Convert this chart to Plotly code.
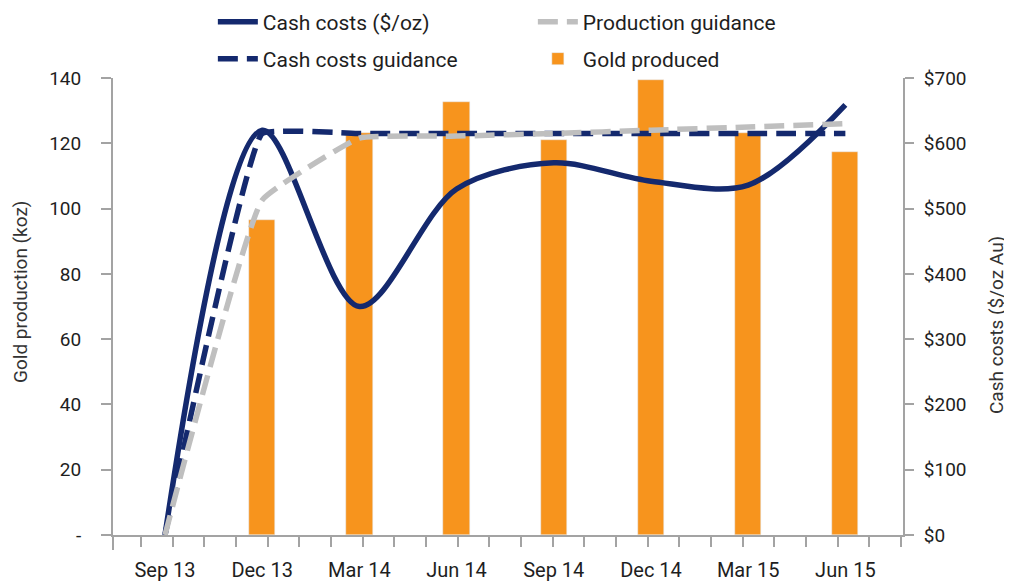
import plotly.graph_objects as go

# ---------------- data ----------------
quarters = ["Sep 13", "Dec 13", "Mar 14", "Jun 14", "Sep 14", "Dec 14", "Mar 15", "Jun 15"]
gold_produced = [None, 96.5, 123.2, 132.7, 121.0, 139.3, 123.1, 117.4]          # koz
production_guidance = [0, 102.6, 121.6, 122.2, 123.0, 124.0, 125.0, 126.0]     # koz
cash_costs = [0, 620, 350, 530, 570, 542, 536, 659]                              # $/oz
cash_costs_guidance = [0, 615, 615, 615, 615, 615, 615, 615]                     # $/oz

left_ticks = [0, 20, 40, 60, 80, 100, 120, 140]
left_tick_labels = ["-", "20", "40", "60", "80", "100", "120", "140"]
right_ticks = [0, 100, 200, 300, 400, 500, 600, 700]
right_tick_labels = ["$0", "$100", "$200", "$300", "$400", "$500", "$600", "$700"]

# ---------------- style ----------------
NAVY = "#14296e"
ORANGE = "#f7941d"
GREY = "#bfbfbf"
AXIS = "#a3a3a3"
TEXT = "#1e1e1e"
FONT = "Roboto"

x = list(range(len(quarters)))
bar_x = [xi for xi, v in zip(x, gold_produced) if v is not None]
bar_y = [v for v in gold_produced if v is not None]

# monthly minor ticks (pixel-derived spacing of the original axis)
minor_start = -0.247
minor_step = 0.3258
minor_ticks = [minor_start + k * minor_step for k in range(25)]

fig = go.Figure()

fig.add_trace(go.Bar(
    x=bar_x, y=bar_y, name="Gold produced", marker_color=ORANGE,
    width=0.27, yaxis="y", legend="legend2", legendrank=2,
))
fig.add_trace(go.Scatter(
    x=x, y=cash_costs_guidance, name="Cash costs guidance", mode="lines",
    line=dict(color=NAVY, width=5.5, dash="20px,9px", shape="spline", smoothing=0.25),
    yaxis="y2", legend="legend2", legendrank=1,
))
fig.add_trace(go.Scatter(
    x=x, y=cash_costs, name="Cash costs ($/oz)", mode="lines",
    line=dict(color=NAVY, width=5.5, shape="spline", smoothing=0.9),
    yaxis="y2", legend="legend", legendrank=1,
))
fig.add_trace(go.Scatter(
    x=x, y=production_guidance, name="Production guidance", mode="lines",
    line=dict(color=GREY, width=5.5, dash="20px,9px", shape="spline", smoothing=0.3),
    yaxis="y3", legend="legend", legendrank=2,
))

xr = [-0.535, 7.593]

legend_common = dict(
    orientation="h", xanchor="left", yanchor="middle",
    entrywidth=265, entrywidthmode="pixels",
    font=dict(family=FONT, size=21, color=TEXT),
    bgcolor="rgba(0,0,0,0)", itemwidth=40,
)

# the page body adds an 8px offset, so the figure is 8px smaller on each side
fig.update_layout(
    width=1004, height=575,
    margin=dict(l=105, r=109, t=70, b=48, autoexpand=False),
    paper_bgcolor="white", plot_bgcolor="white",
    font=dict(family=FONT, size=18, color=TEXT),
    bargap=0,
    xaxis=dict(
        range=xr, tickvals=x, ticktext=quarters, ticks="",
        showline=True, linecolor=AXIS, linewidth=2,
        showgrid=False, zeroline=False,
        tickfont=dict(family=FONT, size=20, color=TEXT),
        ticklabelstandoff=16,
        minor=dict(tickvals=minor_ticks, ticks="outside", ticklen=10,
                   tickcolor=AXIS, tickwidth=2, showgrid=False),
    ),
    yaxis=dict(
        range=[0, 140], tickvals=left_ticks, ticktext=left_tick_labels,
        ticks="outside", ticklen=10, tickcolor=AXIS, tickwidth=2,
        showline=True, linecolor=AXIS, linewidth=2,
        showgrid=False, zeroline=False,
        tickfont=dict(family=FONT, size=19, color=TEXT),
        ticklabelstandoff=16,
    ),
    yaxis2=dict(
        range=[0, 700], overlaying="y", side="right",
        tickvals=right_ticks, ticktext=right_tick_labels,
        ticks="outside", ticklen=9, tickcolor=AXIS, tickwidth=2,
        showline=True, linecolor=AXIS, linewidth=2,
        showgrid=False, zeroline=False,
        tickfont=dict(family=FONT, size=19, color=TEXT),
        ticklabelstandoff=6,
    ),
    yaxis3=dict(
        range=[0, 140], overlaying="y", visible=False,
    ),
    legend=dict(x=0.1264, y=1.1225, **legend_common),
    legend2=dict(x=0.1264, y=1.0416, **legend_common),
    showlegend=True,
)

# left axis extends below the category axis
fig.add_shape(type="line", xref="paper", yref="paper",
              x0=0, x1=0, y0=0, y1=-15 / 457,
              line=dict(color=AXIS, width=2))

fig.add_annotation(text="Gold production (koz)", xref="paper", yref="paper",
                   x=(20 - 113) / 790, y=(535 - 292) / 457, textangle=-90,
                   showarrow=False, font=dict(family=FONT, size=19, color="#333333"),
                   xanchor="center", yanchor="middle")
fig.add_annotation(text="Cash costs ($/oz Au)", xref="paper", yref="paper",
                   x=(996 - 113) / 790, y=(535 - 325) / 457, textangle=-90,
                   showarrow=False, font=dict(family=FONT, size=19, color="#333333"),
                   xanchor="center", yanchor="middle")

fig.write_html("out.html")
